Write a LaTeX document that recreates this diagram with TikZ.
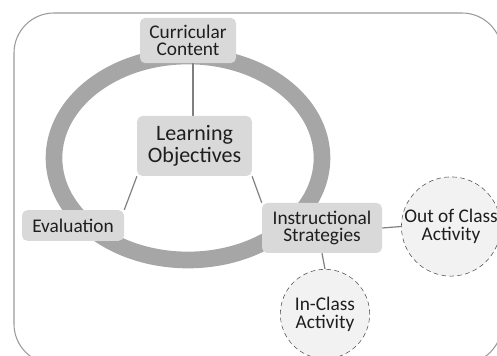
\documentclass[tikz,border=0pt]{standalone}
\usepackage{fontspec}
\setmainfont{Carlito}
\usepackage{tikz}
\usetikzlibrary{positioning,backgrounds}
\definecolor{ringgray}{HTML}{A6A6A6}
\definecolor{boxgray}{HTML}{D9D9D9}
\definecolor{actgray}{HTML}{F2F2F2}
\definecolor{linegray}{HTML}{7F7F7F}
\definecolor{framegray}{HTML}{9A9A9A}
\definecolor{txtgray}{HTML}{1E1E1E}

\tikzset{
  topic/.style={fill=boxgray, rounded corners=4pt, align=center, inner sep=0pt,
    text=txtgray, font=\fontsize{14.5}{13}\selectfont},
  activity/.style={circle, draw=black!70, dash pattern={on 3.5pt off 2.5pt}, fill=actgray,
    align=center, inner sep=0pt, text=txtgray, font=\fontsize{14.5}{13.5}\selectfont},
  link/.style={draw=linegray, line width=0.9pt}
}

\begin{document}
\begin{tikzpicture}[x=0.75pt,y=0.75pt,yscale=-1,xscale=1]
\useasboundingbox (0,0) rectangle (497,356);
\clip (0,0) rectangle (497,356);

%Topics
\node [topic, minimum width=72pt, minimum height=34pt] (cc) at (188,40.5) {Curricular\\Content};
\node [topic, minimum width=86pt, minimum height=45pt, font=\fontsize{16.5}{16.5}\selectfont] (lo) at (194.5,146) {Learning\\Objectives};
\node [topic, minimum width=76.5pt, minimum height=23pt] (ev) at (73,225.5) {Evaluation};
\node [topic, minimum width=90pt, minimum height=37.5pt] (is) at (322,228) {Instructional\\Strategies};

%Activities
\node [activity, minimum size=66pt] (oc) at (451,226.5) {Out of Class\\Activity};
\node [activity, minimum size=67pt] (ic) at (325,314) {In-Class\\Activity};

\begin{scope}[on background layer]
%Frame
\draw [framegray, line width=0.8pt, rounded corners=30pt] (14,13) rectangle (502,364);
%Ring
\draw [ringgray, line width=12.5pt] (188,158) ellipse [x radius=134, y radius=102];
%Links
\draw [link] (cc.south -| 193,0) -- (lo.north -| 193,0);
\draw [link] (lo.south west) -- (ev.north east);
\draw [link] (lo.south east) -- (is.north west);
\draw [link] (is.east) -- (oc.west);
\draw [link] (is.south) -- (ic.north);
\end{scope}
\end{tikzpicture}
\end{document}
